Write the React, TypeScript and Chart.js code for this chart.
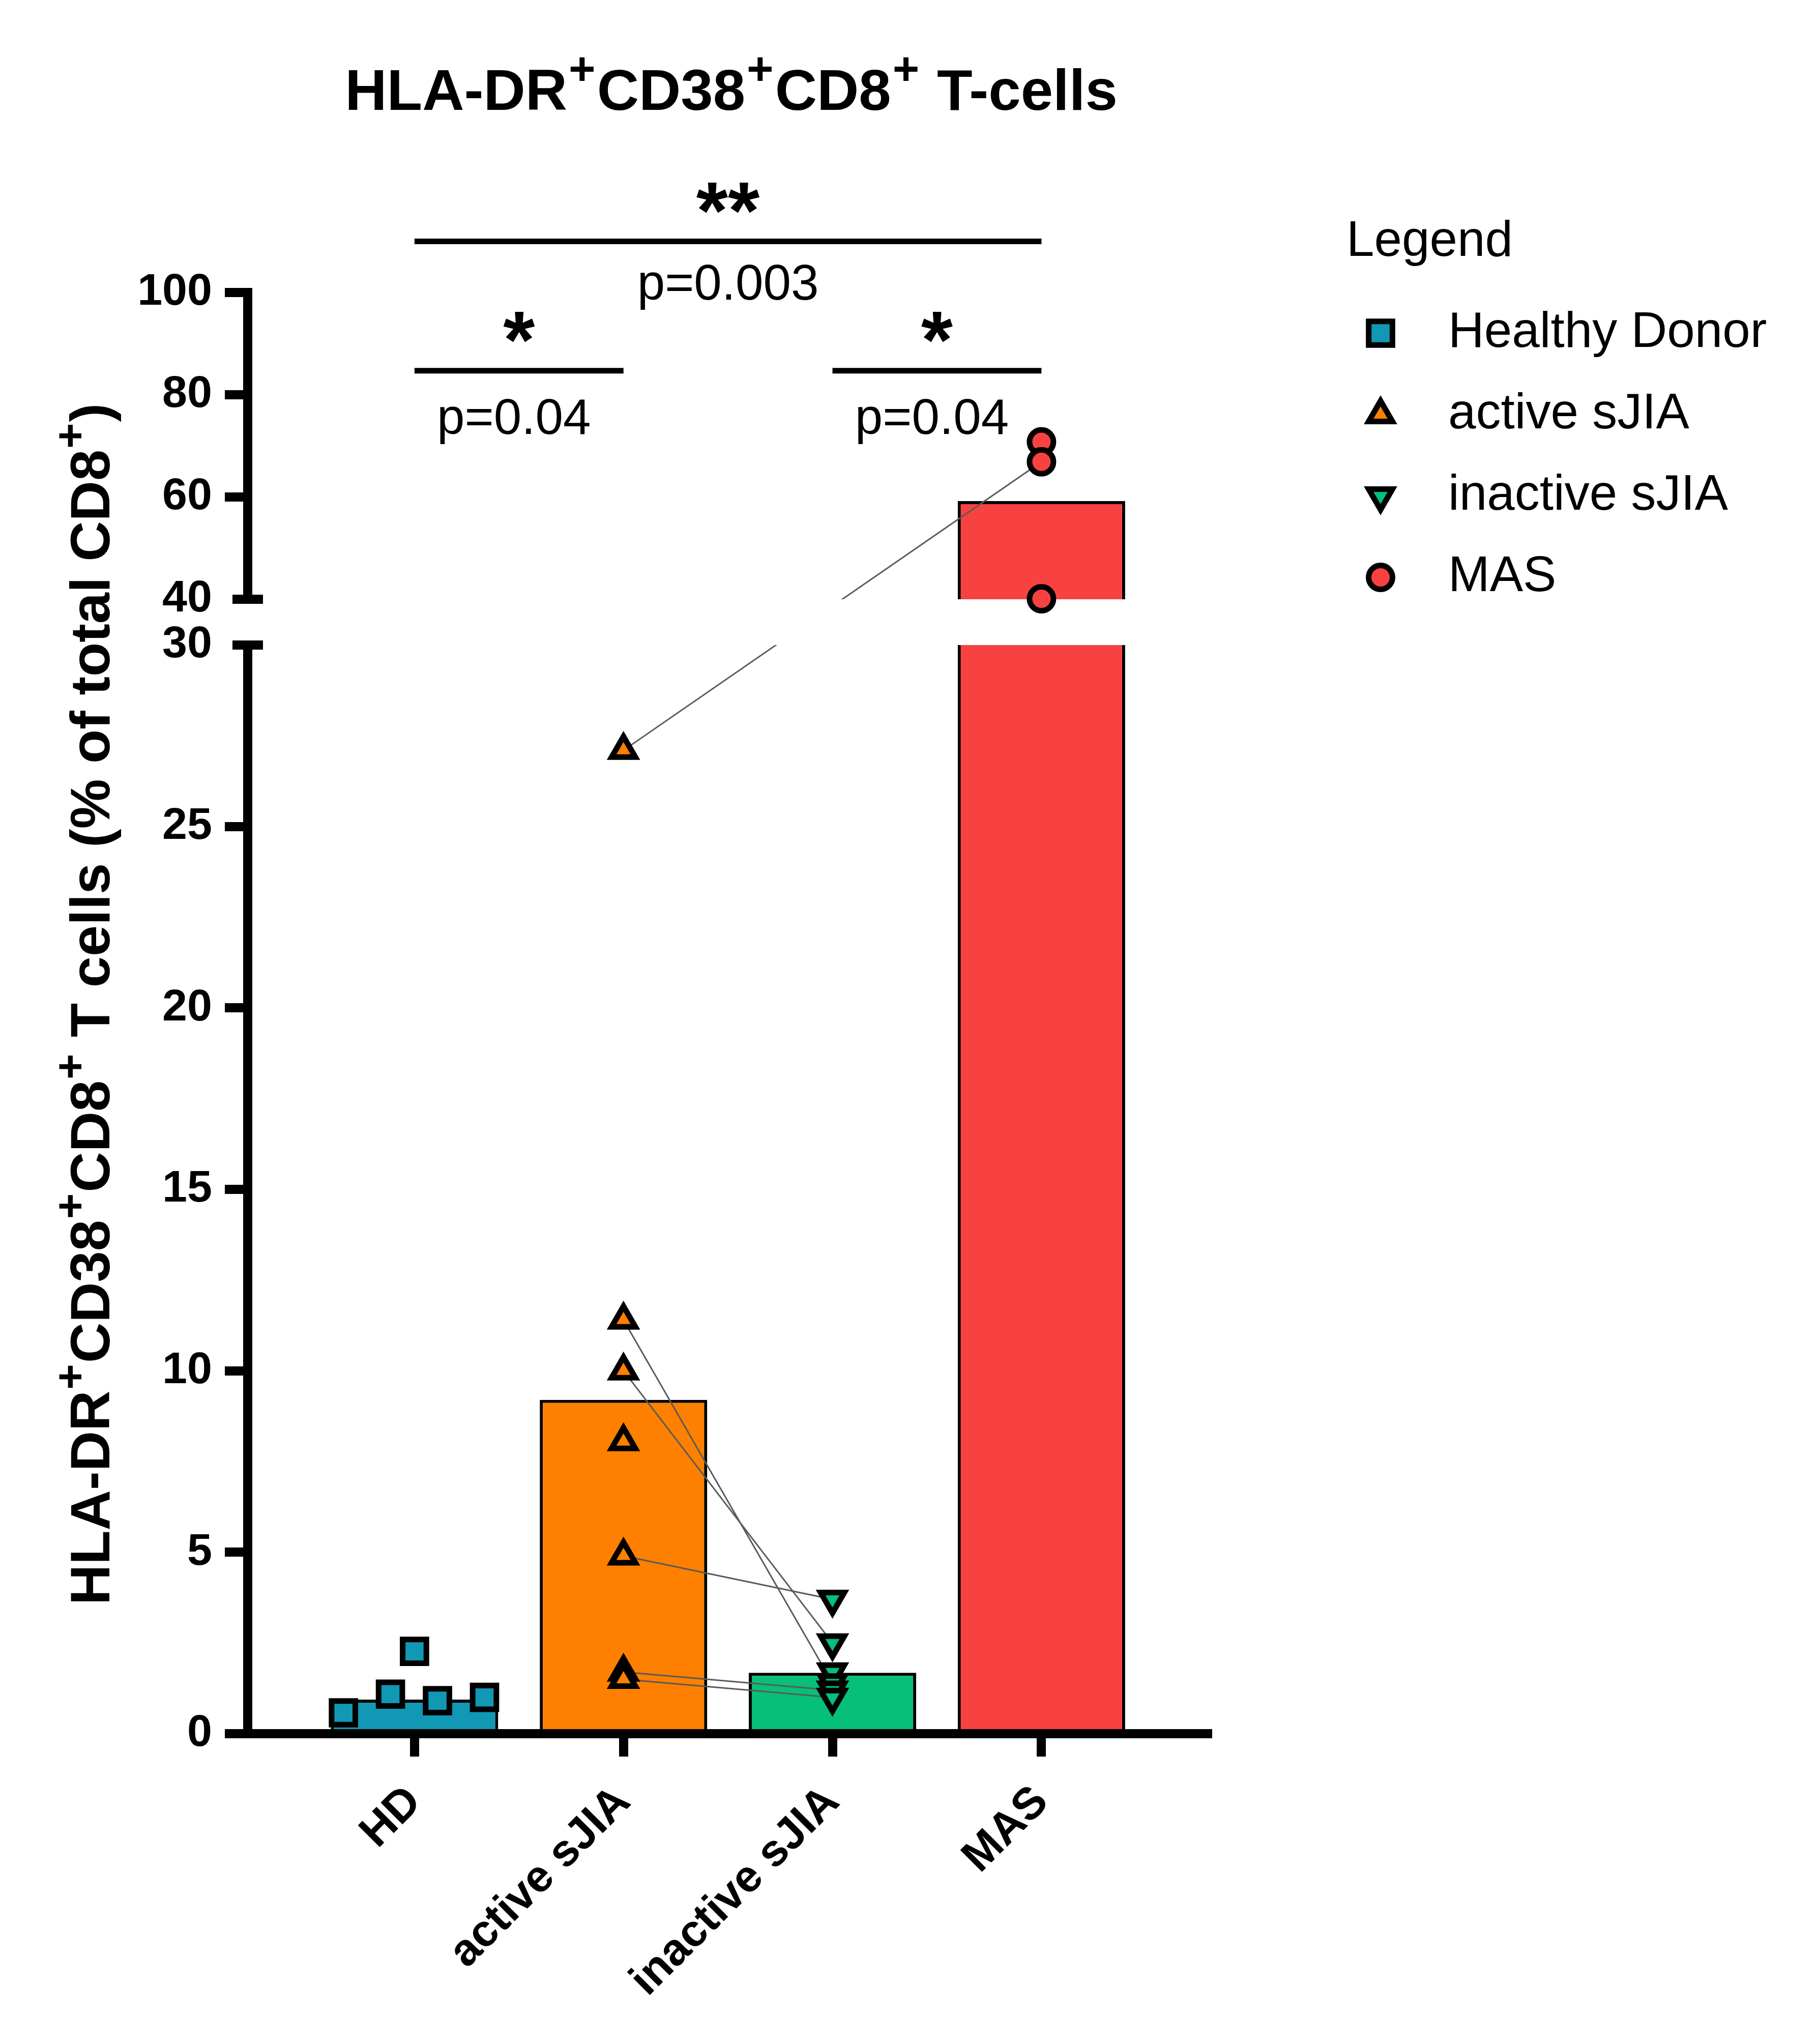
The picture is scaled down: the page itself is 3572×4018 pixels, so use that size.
import React, { useEffect, useRef } from 'react';
import { Chart, LinearScale, registerables } from 'chart.js';
import { drawPoint } from 'chart.js/helpers';

// ---------------- data ----------------
const CATEGORIES = ['HD', 'active sJIA', 'inactive sJIA', 'MAS'];
const LEGEND_LABELS = ['Healthy Donor', 'active sJIA', 'inactive sJIA', 'MAS'];
const BAR_VALUES = [0.94, 9.2, 1.68, 59.2];
const HD_X = [-0.34, -0.115, 0, 0.11, 0.335];
const HD_VALUES = [0.575, 1.09, 2.27, 0.91, 1.0];
const ACTIVE_VALUES = [27.1, 11.4, 10.0, 8.05, 4.9, 1.7, 1.5];
const INACTIVE_VALUES = [3.7, 2.5, 1.7, 1.4, 1.2, 1.0];
const MAS_VALUES = [70.8, 66.9, 40.1];
// paired samples: [group from, value from, group to, value to]
const PAIRS = [
  [1, 11.4, 2, 1.4],
  [1, 10.0, 2, 2.5],
  [1, 4.9, 2, 3.7],
  [1, 1.7, 2, 1.2],
  [1, 1.5, 2, 1.0],
  [1, 27.1, 3, 66.9],
];
const Y_TICKS = [0, 5, 10, 15, 20, 25, 30, 40, 60, 80, 100];
const Y_BREAK = [30, 40];
const COMP_FROM = [0, 0, 2];
const COMP_TO = [3, 1, 3];
const COMP_STARS = ['**', '*', '*'];
const COMP_P = ['p=0.003', 'p=0.04', 'p=0.04'];
const COMP_LEVEL = [110, 84.7, 84.7];

const TITLE = 'HLA-DR\u207ACD38\u207ACD8\u207A T-cells';
const Y_TITLE = 'HLA-DR\u207ACD38\u207ACD8\u207A T cells (% of total CD8\u207A)';

// ---------------- styles ----------------
const FONT = "'Liberation Sans', Arial, Helvetica, sans-serif";
const COLORS = ['#1198B4', '#FF8000', '#06BF78', '#F84242'];
const W = 3572;
const H = 4018;
const SEG_WEIGHTS = [2140, 90, 603];
const P_OFFSETS = [114, 124, 124];

class BrokenLinearScale extends LinearScale {
  static id = 'brokenLinear';
  static defaults = {};
  buildTicks() {
    return Y_TICKS.map((v) => ({ value: v }));
  }
  _fr() {
    const t = SEG_WEIGHTS[0] + SEG_WEIGHTS[1] + SEG_WEIGHTS[2];
    return [SEG_WEIGHTS[0] / t, SEG_WEIGHTS[1] / t, SEG_WEIGHTS[2] / t];
  }
  _toDecimal(v) {
    const [f0, f1, f2] = this._fr();
    const lo = Y_BREAK[0];
    const hi = Y_BREAK[1];
    const min = this.min;
    const max = this.max;
    if (v <= lo) return ((v - min) / (lo - min)) * f0;
    if (v < hi) return f0 + ((v - lo) / (hi - lo)) * f1;
    return f0 + f1 + ((v - hi) / (max - hi)) * f2;
  }
  getPixelForValue(value) {
    if (value === null || value === undefined || Number.isNaN(+value)) return NaN;
    return this.getPixelForDecimal(this._toDecimal(+value));
  }
  getValueForPixel(pixel) {
    const d = this.getDecimalForPixel(pixel);
    const [f0, f1, f2] = this._fr();
    const lo = Y_BREAK[0];
    const hi = Y_BREAK[1];
    if (d <= f0) return this.min + (d / f0) * (lo - this.min);
    if (d < f0 + f1) return lo + ((d - f0) / f1) * (hi - lo);
    return hi + ((d - f0 - f1) / f2) * (this.max - hi);
  }
}

Chart.register(...registerables, BrokenLinearScale);

function richParts(text) {
  const parts = [];
  let buf = '';
  for (const ch of text) {
    if (ch === '\u207A') {
      if (buf) parts.push({ t: buf, sup: false });
      buf = '';
      parts.push({ t: '+', sup: true });
    } else {
      buf += ch;
    }
  }
  if (buf) parts.push({ t: buf, sup: false });
  return parts;
}

// draws text centred on (0,0), alphabetic baseline at y = 0, "+" superscripts
function drawRich(ctx, text, size, supSize, supRise, supGap) {
  const parts = richParts(text);
  const widths = parts.map((p) => {
    ctx.font = `bold ${p.sup ? supSize : size}px ${FONT}`;
    return ctx.measureText(p.t).width + (p.sup ? 2 * supGap : 0);
  });
  const total = widths.reduce((a, b) => a + b, 0);
  let x = -total / 2;
  ctx.textAlign = 'left';
  ctx.textBaseline = 'alphabetic';
  parts.forEach((p, i) => {
    ctx.font = `bold ${p.sup ? supSize : size}px ${FONT}`;
    ctx.fillText(p.t, x + (p.sup ? supGap : 0), p.sup ? -supRise : 0);
    x += widths[i];
  });
}

const titlesPlugin = {
  id: 'richTitles',
  afterDraw(chart) {
    const { ctx, chartArea } = chart;
    ctx.save();
    ctx.fillStyle = '#000';
    ctx.translate((chartArea.left + chartArea.right) / 2 + 7, 216);
    drawRich(ctx, TITLE, 114, 90, 50, 3);
    ctx.restore();

    ctx.save();
    ctx.fillStyle = '#000';
    ctx.translate(215, 1974);
    ctx.rotate(-Math.PI / 2);
    drawRich(ctx, Y_TITLE, 110, 86, 48, 2);
    ctx.restore();
  },
};

const breakPlugin = {
  id: 'axisBreak',
  beforeDatasetsDraw(chart) {
    chart.$breakDone = false;
  },
  beforeDatasetDraw(chart, args) {
    const ds = chart.data.datasets[args.index];
    if (!ds.isPoints || chart.$breakDone) return;
    chart.$breakDone = true;
    const { ctx, chartArea } = chart;
    const ys = chart.scales.y;
    const yHi = ys.getPixelForValue(Y_BREAK[1]);
    const yLo = ys.getPixelForValue(Y_BREAK[0]);
    ctx.save();
    ctx.fillStyle = '#ffffff';
    ctx.fillRect(chartArea.left - 12, yHi, chartArea.right - chartArea.left + 24, yLo - yHi);
    ctx.fillStyle = '#000000';
    const x = chartArea.left;
    ctx.fillRect(x - 30, yHi - 9, 60, 18);
    ctx.fillRect(x - 30, yLo - 9, 60, 18);
    ctx.restore();
  },
};

const annotationPlugin = {
  id: 'sigBrackets',
  afterDraw(chart) {
    const { ctx } = chart;
    const xs = chart.scales.x;
    const ys = chart.scales.y;
    ctx.save();
    ctx.fillStyle = '#000';
    COMP_FROM.forEach((from, i) => {
      const x1 = xs.getPixelForValue(from);
      const x2 = xs.getPixelForValue(COMP_TO[i]);
      const y = ys.getPixelForValue(COMP_LEVEL[i]);
      const cx = (x1 + x2) / 2;
      ctx.fillRect(x1, y - 5.5, x2 - x1, 11);
      ctx.textAlign = 'center';
      ctx.textBaseline = 'alphabetic';
      ctx.font = `bold 160px ${FONT}`;
      ctx.fillText(COMP_STARS[i], cx, y - 6);
      ctx.font = `98px ${FONT}`;
      ctx.fillText(COMP_P[i], cx - (i === 0 ? 0 : 10), y + P_OFFSETS[i]);
    });
    ctx.restore();
  },
};

const legendPlugin = {
  id: 'customLegend',
  afterDraw(chart) {
    const { ctx, chartArea } = chart;
    const left = chartArea.right + 273;
    ctx.save();
    ctx.fillStyle = '#000';
    ctx.font = `98px ${FONT}`;
    ctx.textAlign = 'left';
    ctx.textBaseline = 'alphabetic';
    ctx.fillText('Legend', left, 503);
    const pointSets = chart.data.datasets.filter((d) => d.isPoints);
    pointSets.forEach((ds, i) => {
      const y = 655 + i * 160;
      const mx = left + 67;
      ctx.fillStyle = ds.backgroundColor;
      ctx.strokeStyle = ds.borderColor;
      ctx.lineWidth = ds.borderWidth;
      drawPoint(
        ctx,
        { pointStyle: ds.pointStyle, rotation: ds.rotation || 0, radius: ds.pointRadius, borderWidth: ds.borderWidth },
        mx,
        y
      );
      ctx.fillStyle = '#000';
      ctx.font = `98px ${FONT}`;
      ctx.textBaseline = 'middle';
      ctx.fillText(ds.label, left + 200, y);
    });
    ctx.restore();
  },
};

export default function App() {
  const canvasRef = useRef(null);

  useEffect(() => {
    const canvas = canvasRef.current;
    if (!canvas) return;

    const pointCommon = {
      type: 'scatter',
      isPoints: true,
      borderColor: '#000000',
      borderWidth: 11,
      clip: false,
      order: 1,
    };

    const datasets = [
      {
        type: 'bar',
        label: 'bars',
        data: BAR_VALUES.map((v, i) => ({ x: i, y: v })),
        backgroundColor: COLORS,
        borderColor: '#000000',
        borderWidth: 6,
        categoryPercentage: 1,
        barPercentage: 0.801,
        order: 10,
      },
      ...PAIRS.map((p) => ({
        type: 'line',
        label: 'pair',
        data: [
          { x: p[0], y: p[1] },
          { x: p[2], y: p[3] },
        ],
        borderColor: '#5a5a5a',
        borderWidth: 3,
        pointRadius: 0,
        fill: false,
        clip: false,
        order: 5,
      })),
      {
        ...pointCommon,
        label: LEGEND_LABELS[0],
        data: HD_VALUES.map((v, i) => ({ x: HD_X[i], y: v })),
        pointStyle: 'rect',
        pointRadius: 33,
        backgroundColor: COLORS[0],
      },
      {
        ...pointCommon,
        label: LEGEND_LABELS[1],
        data: ACTIVE_VALUES.map((v) => ({ x: 1, y: v })),
        pointStyle: 'triangle',
        pointRadius: 27,
        backgroundColor: COLORS[1],
      },
      {
        ...pointCommon,
        label: LEGEND_LABELS[2],
        data: INACTIVE_VALUES.map((v) => ({ x: 2, y: v })),
        pointStyle: 'triangle',
        rotation: 180,
        pointRotation: 180,
        pointRadius: 27,
        backgroundColor: COLORS[2],
      },
      {
        ...pointCommon,
        label: LEGEND_LABELS[3],
        data: MAS_VALUES.map((v) => ({ x: 3, y: v })),
        pointStyle: 'circle',
        pointRadius: 23.5,
        backgroundColor: COLORS[3],
      },
    ];

    const chart = new Chart(canvas, {
      type: 'bar',
      data: { datasets },
      plugins: [breakPlugin, annotationPlugin, legendPlugin, titlesPlugin],
      options: {
        responsive: false,
        animation: false,
        devicePixelRatio: 1,
        events: [],
        layout: { padding: { left: 0, right: 1198, top: 575, bottom: 0 } },
        plugins: {
          legend: { display: false },
          tooltip: { enabled: false },
          title: { display: false },
        },
        scales: {
          x: {
            type: 'linear',
            offset: false,
            bounds: 'data',
            min: -0.798,
            max: 3.795,
            afterBuildTicks: (s) => {
              s.ticks = CATEGORIES.map((_, i) => ({ value: i }));
            },
            afterFit: (s) => {
              s.height = H - 3408;
            },
            ticks: {
              autoSkip: false,
              minRotation: 45,
              maxRotation: 45,
              padding: 38,
              color: '#000',
              font: { family: FONT, size: 88, weight: 'bold' },
              callback: (v) => CATEGORIES[v] ?? '',
            },
            grid: {
              offset: false,
              drawOnChartArea: false,
              drawTicks: true,
              tickLength: 45,
              tickWidth: 18,
              lineWidth: 18,
              tickColor: '#000',
              color: '#000',
            },
            border: { display: true, width: 18, color: '#000' },
          },
          y: {
            type: 'brokenLinear',
            position: 'left',
            min: 0,
            max: 100,
            afterFit: (s) => {
              s.width = 487;
            },
            ticks: {
              autoSkip: false,
              padding: 25,
              color: '#000',
              font: { family: FONT, size: 88, weight: 'bold' },
              callback: (v) => String(v),
            },
            grid: {
              drawOnChartArea: false,
              drawTicks: true,
              tickLength: 45,
              tickWidth: 18,
              lineWidth: 18,
              color: '#000',
              tickColor: (ctx) =>
                ctx.tick && (ctx.tick.value === Y_BREAK[0] || ctx.tick.value === Y_BREAK[1])
                  ? 'rgba(0,0,0,0)'
                  : '#000',
            },
            border: { display: true, width: 18, color: '#000' },
            title: { display: false },
          },
        },
      },
    });

    return () => {
      chart.destroy();
    };
  }, []);

  return (
    <div style={{ position: 'absolute', left: 0, top: 0, width: W, height: H, background: '#fff' }}>
      <canvas ref={canvasRef} width={W} height={H} style={{ display: 'block', width: W, height: H }} />
    </div>
  );
}
